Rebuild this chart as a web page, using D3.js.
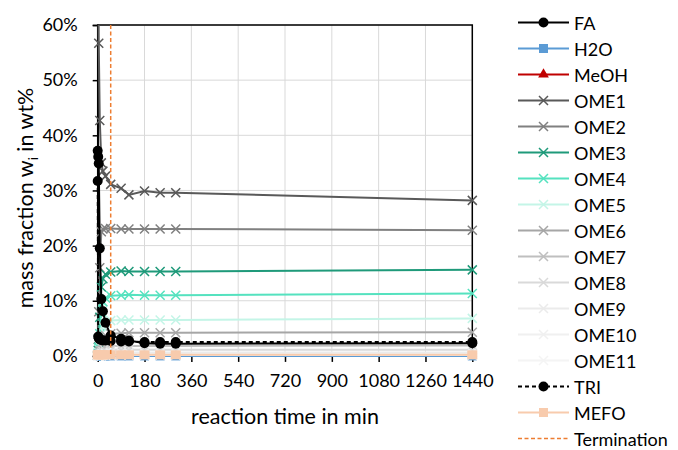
<!DOCTYPE html>
<html>
<head>
    <title>Mass fraction vs reaction time</title>
    <script src="https://d3js.org/d3.v7.min.js"></script>
    <style>
        body { margin: 0; background: #fff; }
        svg text { font-family: Lato, "Open Sans", sans-serif; fill: #000; }
        .grid line { stroke: #d9d9d9; stroke-width: 1px; }
    </style>
</head>
<body>
    <svg width="678" height="450"></svg>

    <script>
        // sample times in min
        const times = [0, 2, 4, 8, 14, 20, 30, 50, 90, 120, 180, 240, 300, 1440];

        // mass fractions in wt%
        const FA    = [37.2, 36.1, 34.9, 19.5, 10.3, 8.1, 6.0, 3.7, 3.1, 2.8, 2.3, 2.2, 2.2, 2.3];
        const H2O   = [0, 0, 0, 0, 0, 0, 0, 0, 0, 0, 0, 0, 0, 0];
        const MeOH  = []; // not visible in the plot
        const OME1  = [95, 75, 56.7, 42.7, 35.0, 33.5, 32.6, 31.1, 30.4, 29.2, 29.9, 29.6, 29.6, 28.2];
        const OME2  = [0, 3, 8, 16, 22.5, 23.0, 23.1, 23.1, 23.0, 23.0, 23.0, 23.0, 23.0, 22.8];
        const OME3  = [0, 1, 3, 7, 12.5, 14.0, 14.8, 15.2, 15.4, 15.3, 15.3, 15.3, 15.3, 15.6];
        const OME4  = [0, 0.5, 1.5, 4, 8, 9.8, 10.5, 10.9, 11.0, 11.1, 11.0, 11.0, 11.0, 11.3];
        const OME5  = [0, 0.2, 0.6, 1.8, 4, 5.4, 6.0, 6.4, 6.5, 6.5, 6.5, 6.5, 6.5, 6.8];
        const OME6  = [0, 0.1, 0.3, 0.9, 2.2, 3.2, 3.7, 4.0, 4.1, 4.2, 4.2, 4.2, 4.2, 4.3];
        const OME7  = [0, 0, 0.1, 0.4, 1.0, 1.4, 1.6, 1.8, 1.8, 1.8, 1.8, 1.8, 1.8, 1.9];
        const OME8  = [0, 0, 0, 0.2, 0.5, 0.8, 0.9, 1.0, 1.1, 1.1, 1.1, 1.1, 1.1, 1.1];
        const OME9  = [0, 0, 0, 0.1, 0.3, 0.4, 0.5, 0.6, 0.6, 0.6, 0.6, 0.6, 0.6, 0.6];
        const OME10 = [0, 0, 0, 0, 0.1, 0.2, 0.3, 0.3, 0.3, 0.3, 0.3, 0.3, 0.3, 0.3];
        const OME11 = [0, 0, 0, 0, 0, 0.1, 0.1, 0.15, 0.15, 0.15, 0.15, 0.15, 0.15, 0.15];
        const TRI   = [31.7, 3.5, 3.2, 3.0, 2.9, 2.8, 2.8, 2.7, 2.6, 2.6, 2.5, 2.5, 2.5, 2.5];
        const MEFO  = [0.2, 0.2, 0.2, 0.2, 0.2, 0.2, 0.2, 0.2, 0.2, 0.2, 0.2, 0.2, 0.2, 0.2];

        const terminationTime = 50;

        const xTicks = [0, 180, 360, 540, 720, 900, 1080, 1260, 1440];
        const yTicks = [0, 10, 20, 30, 40, 50, 60];

        const series = [
            { name: "FA",    values: FA,    color: "#000000", marker: "circle", z: 3 },
            { name: "H2O",   values: H2O,   color: "#5b9bd5", marker: "square" },
            { name: "MeOH",  values: MeOH,  color: "#c00000", marker: "triangle" },
            { name: "OME1",  values: OME1,  color: "#595959", marker: "x" },
            { name: "OME2",  values: OME2,  color: "#808080", marker: "x" },
            { name: "OME3",  values: OME3,  color: "#1f9a7a", marker: "x" },
            { name: "OME4",  values: OME4,  color: "#55e2bf", marker: "x" },
            { name: "OME5",  values: OME5,  color: "#c4f5e7", marker: "x" },
            { name: "OME6",  values: OME6,  color: "#a6a6a6", marker: "x" },
            { name: "OME7",  values: OME7,  color: "#bfbfbf", marker: "x" },
            { name: "OME8",  values: OME8,  color: "#d9d9d9", marker: "x" },
            { name: "OME9",  values: OME9,  color: "#ebebeb", marker: "x" },
            { name: "OME10", values: OME10, color: "#f0f0f0", marker: "x" },
            { name: "OME11", values: OME11, color: "#f4f4f4", marker: "x" },
            { name: "TRI",   values: TRI,   color: "#000000", marker: "circle", dash: "4,3", z: 2 },
            { name: "MEFO",  values: MEFO,  color: "#f8cbad", marker: "bigsquare", z: 1 }
        ];

        const svg = d3.select("svg");

        const x = d3.scaleLinear().domain([0, 1440]).range([97.7, 472.3]);
        const y = d3.scaleLinear().domain([0, 60]).range([355.9, 25]);

        // grid
        const grid = svg.append("g").attr("class", "grid");
        grid.selectAll(".gx").data(xTicks.slice(1)).enter().append("line")
            .attr("x1", d => x(d)).attr("x2", d => x(d))
            .attr("y1", y(0)).attr("y2", y(60));
        grid.selectAll(".gy").data(yTicks.slice(1)).enter().append("line")
            .attr("x1", x(0)).attr("x2", x(1440))
            .attr("y1", d => y(d)).attr("y2", d => y(d));

        // plot frame
        svg.append("rect")
            .attr("x", x(0)).attr("y", y(60))
            .attr("width", x(1440) - x(0)).attr("height", y(0) - y(60))
            .attr("fill", "none").attr("stroke", "#000").attr("stroke-width", 1.5);

        // axes
        const yAxis = svg.append("g")
            .attr("transform", `translate(${x(0)},0)`)
            .call(d3.axisLeft(y).tickValues(yTicks).tickSize(5).tickPadding(15).tickFormat(d => d + "%"));
        yAxis.select(".domain").attr("stroke", "#000").attr("stroke-width", 1.5);
        yAxis.selectAll(".tick line").attr("stroke", "#000").attr("stroke-width", 1.5);
        yAxis.selectAll("text").attr("font-size", 18).attr("font-family", "Lato");

        const xAxis = svg.append("g")
            .attr("transform", `translate(0,${y(0)})`)
            .call(d3.axisBottom(x).tickValues(xTicks).tickSize(6).tickPadding(12).tickFormat(d3.format("d")));
        xAxis.select(".domain").remove();
        xAxis.selectAll(".tick line").attr("stroke", "#000").attr("stroke-width", 1.5);
        xAxis.selectAll("text").attr("font-size", 18).attr("font-family", "Lato");

        // axis titles
        svg.append("text")
            .attr("x", 285).attr("y", 424)
            .attr("text-anchor", "middle")
            .attr("font-size", 21.5)
            .text("reaction time in min");

        const yTitle = svg.append("text")
            .attr("transform", "translate(33,198) rotate(-90)")
            .attr("text-anchor", "middle")
            .attr("font-size", 21.5);
        yTitle.append("tspan").text("mass fraction w");
        yTitle.append("tspan").attr("font-size", 13).attr("dy", 5).text("i");
        yTitle.append("tspan").attr("dy", -5).text(" in wt%");

        // data
        svg.append("clipPath").attr("id", "clip")
            .append("rect").attr("x", 80).attr("y", y(60)).attr("width", 420).attr("height", 360);

        const plot = svg.append("g").attr("clip-path", "url(#clip)");

        const line = d3.line().x((d, i) => x(times[i])).y(d => y(d));

        function drawMarker(g, type, color, cx, cy) {
            if (type === "circle") {
                g.append("circle").attr("cx", cx).attr("cy", cy).attr("r", 5).attr("fill", color);
            } else if (type === "square") {
                g.append("rect").attr("x", cx - 4.5).attr("y", cy - 4.5).attr("width", 9).attr("height", 9).attr("fill", color);
            } else if (type === "bigsquare") {
                g.append("rect").attr("x", cx - 5).attr("y", cy - 4.5).attr("width", 10).attr("height", 9).attr("fill", color);
            } else if (type === "triangle") {
                g.append("path").attr("d", d3.symbol(d3.symbolTriangle, 50)()).attr("transform", `translate(${cx},${cy})`).attr("fill", color);
            } else if (type === "x") {
                const s = 4.5;
                g.append("path")
                    .attr("d", `M${cx - s},${cy - s}L${cx + s},${cy + s}M${cx - s},${cy + s}L${cx + s},${cy - s}`)
                    .attr("stroke", color).attr("stroke-width", 1.5).attr("fill", "none");
            }
        }

        // black FA/TRI dots sit on top of the OME lines
        series.slice().sort((a, b) => (a.z || 0) - (b.z || 0)).forEach(s => {
            if (!s.values.length) return;
            const g = plot.append("g");
            g.append("path")
                .datum(s.values)
                .attr("d", line)
                .attr("fill", "none")
                .attr("stroke", s.color)
                .attr("stroke-width", 2)
                .attr("stroke-dasharray", s.dash || null);
            s.values.forEach((v, i) => drawMarker(g, s.marker, s.color, x(times[i]), y(v)));
        });

        // termination marker
        plot.append("line")
            .attr("x1", x(terminationTime)).attr("x2", x(terminationTime))
            .attr("y1", y(60)).attr("y2", y(0))
            .attr("stroke", "#ed7d31").attr("stroke-width", 1.5)
            .attr("stroke-dasharray", "4,2.5");

        // legend
        const legendItems = series.concat([{ name: "Termination", color: "#ed7d31", marker: null, dash: "4,2.5", thin: true }]);
        const legend = svg.append("g");
        legendItems.forEach((s, i) => {
            const ly = 22.5 + i * 26;
            const g = legend.append("g");
            g.append("line")
                .attr("x1", 518).attr("x2", 569).attr("y1", ly).attr("y2", ly)
                .attr("stroke", s.color).attr("stroke-width", s.thin ? 1.5 : 2)
                .attr("stroke-dasharray", s.dash || null);
            if (s.marker) drawMarker(g, s.marker === "bigsquare" ? "square" : s.marker, s.color, 543.5, ly);
            g.append("text")
                .attr("x", 574).attr("y", ly)
                .attr("dominant-baseline", "central")
                .attr("font-size", 18)
                .text(s.name);
        });
    </script>
</body>
</html>
